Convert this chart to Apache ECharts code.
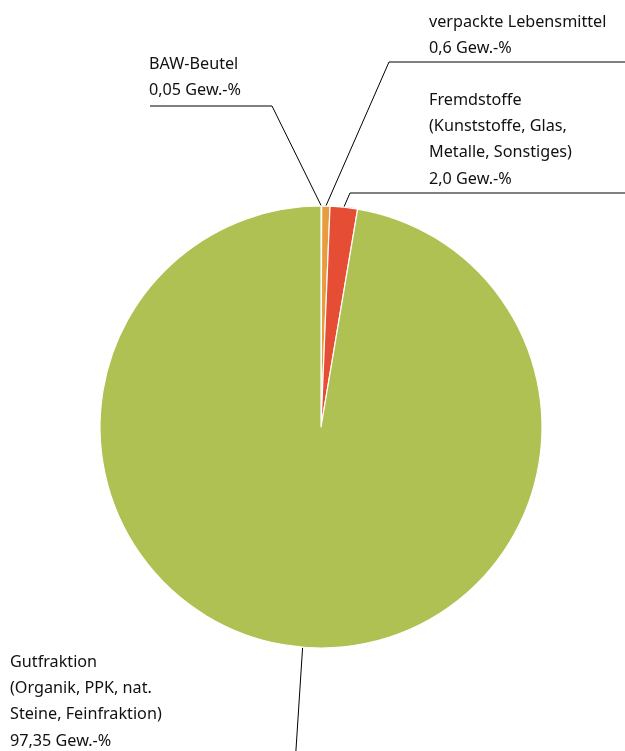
<!DOCTYPE html>
<html><head><meta charset="utf-8">
<script src="https://cdn.jsdelivr.net/npm/echarts@6/dist/echarts.min.js"></script>
<style>html,body{margin:0;padding:0;background:#fff}#c{width:625px;height:751px}</style>
</head><body><div id="c"></div>
<script>
const categories = ['BAW-Beutel', 'verpackte Lebensmittel', 'Fremdstoffe', 'Gutfraktion'];
const labelTexts = [
  'BAW-Beutel\n0,05 Gew.-%',
  'verpackte Lebensmittel\n0,6 Gew.-%',
  'Fremdstoffe\n(Kunststoffe, Glas,\nMetalle, Sonstiges)\n2,0 Gew.-%',
  'Gutfraktion\n(Organik, PPK, nat.\nSteine, Feinfraktion)\n97,35 Gew.-%'
];
const values = [0.05, 0.6, 2.0, 97.35];
const colors = ['#e8a13f', '#e89c3f', '#e54d34', '#b0c153'];

// label layout (text anchor + leader-line bend/end)
const labelPos = [
  {x: 149, y: 51, bend: [272, 106], end: [150, 106]},
  {x: 429, y: 9, bend: [389, 62], end: [640, 62]},
  {x: 429, y: 87, bend: [350, 193], end: [640, 193]},
  {x: 10, y: 649, bend: [295, 765], end: [295, 765]}
];

const chart = echarts.init(document.getElementById('c'));
chart.setOption({
  animation: false,
  series: [{
    type: 'pie',
    center: [321, 427],
    radius: 221,
    startAngle: 90,
    clockwise: true,
    avoidLabelOverlap: false,
    minShowLabelAngle: 0,
    itemStyle: {borderColor: '#fff', borderWidth: 1.2},
    label: {
      show: true,
      formatter: p => labelTexts[p.dataIndex],
      color: '#111',
      fontFamily: 'Noto Sans',
      fontSize: 16.2,
      lineHeight: 26.3,
      align: 'left'
    },
    labelLine: {show: true, lineStyle: {color: '#000', width: 1}, length: 10, length2: 10},
    labelLayout: function (p) {
      const lp = labelPos[p.dataIndex];
      const start = p.labelLinePoints ? p.labelLinePoints[0] : lp.bend;
      return {
        x: lp.x, y: lp.y, align: 'left', verticalAlign: 'top',
        labelLinePoints: [start, lp.bend, lp.end]
      };
    },
    data: categories.map((c, i) => ({name: c, value: values[i], itemStyle: {color: colors[i]}}))
  }]
});
</script></body></html>
